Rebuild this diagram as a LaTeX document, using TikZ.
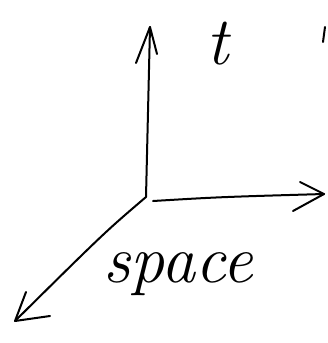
\documentclass[tikz,border=0pt]{standalone}
\begin{document}
\begin{tikzpicture}[x=1pt,y=-1pt,
  pen/.style={line width=2pt,line cap=round,line join=round,black},
  hand/.style={inner sep=0pt,font=\fontsize{68}{68}\selectfont\itshape}]
\useasboundingbox (0,0) rectangle (327,343);
\coordinate (O) at (146,197);
\coordinate (T) at (150,27);
\coordinate (X) at (324,194);
\coordinate (S) at (15,321);
\coordinate (Xs) at (153,201);
% axes
\draw[pen] (O) -- (T);
\draw[pen] (Xs) .. controls (220,197) .. (X);
\draw[pen] (O) .. controls (105,232) .. (S);
% arrowheads
\draw[pen] (136,63) -- (T) -- (157,54);
\draw[pen] (300,182) -- (X) -- (293,211);
\draw[pen] (26,292) -- (S) -- (50,316);
% stray mark at right edge
\coordinate (M1) at (325,27);
\coordinate (M2) at (323,42);
\draw[pen] (M1) -- (M2);
% labels
\node[hand,anchor=base] (tl) at (218,64) {t};
\node[hand,anchor=base] (sl) at (178,282) {space};
\end{tikzpicture}
\end{document}
